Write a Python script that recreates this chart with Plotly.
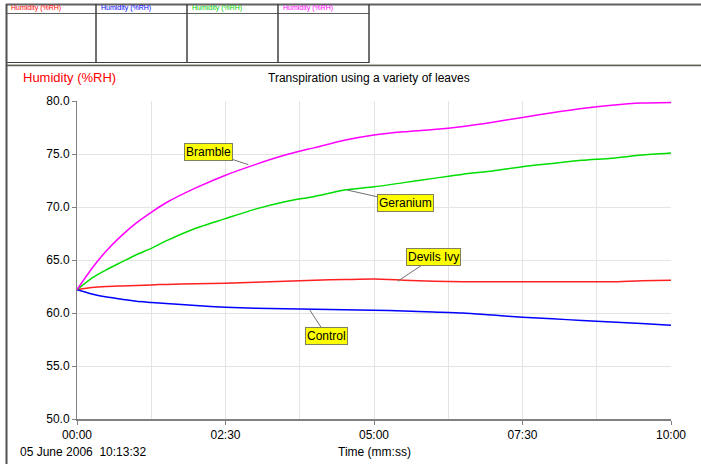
import plotly.graph_objects as go

# ---- data ----
time_s = [0, 15, 30, 45, 60, 75, 90, 120, 150, 180, 210, 240, 270, 300,
          330, 360, 390, 420, 450, 480, 510, 540, 570, 600]
bramble = [62.2, 64.2, 65.9, 67.3, 68.5, 69.5, 70.4, 71.8, 73.0, 74.0, 74.9, 75.6,
           76.3, 76.8, 77.1, 77.3, 77.6, 78.0, 78.45, 78.9, 79.3, 79.6, 79.8, 79.85]
geranium = [62.2, 63.3, 64.1, 64.8, 65.5, 66.1, 66.8, 68.0, 68.9, 69.8, 70.5, 71.0,
            71.6, 71.9, 72.3, 72.7, 73.1, 73.4, 73.8, 74.1, 74.4, 74.6, 74.9, 75.1]
devils_ivy = [62.2, 62.4, 62.5, 62.55, 62.6, 62.65, 62.7, 62.75, 62.8, 62.9, 63.0, 63.1,
              63.15, 63.2, 63.1, 63.0, 62.95, 62.95, 62.95, 62.95, 62.95, 62.95, 63.05, 63.1]
control = [62.2, 61.8, 61.5, 61.3, 61.1, 61.0, 60.9, 60.7, 60.55, 60.45, 60.4, 60.35,
           60.3, 60.25, 60.2, 60.1, 60.0, 59.8, 59.6, 59.45, 59.3, 59.15, 59.0, 58.85]

tick_vals = [0, 150, 300, 450, 600]
tick_text = ["00:00", "02:30", "05:00", "07:30", "10:00"]

labels = [  # (text, time, value, ax, ay)
    ("Bramble", 173, 74.0, -40, -13),
    ("Geranium", 273, 71.6, 58, 13),
    ("Devils Ivy", 324, 63.0, 36, -24),
    ("Control", 235, 60.3, 17, 26),
]

FONT = "Liberation Sans, Arial, sans-serif"
W, H = 701, 464
L, R, T, B = 77, 671, 101, 419


def px(x):
    return (x - L) / (R - L)


def py(y):
    return (B - y) / (B - T)


fig = go.Figure()
for name, vals, col in [("Devils Ivy", devils_ivy, "#ff2020"),
                        ("Control", control, "#0000ff"),
                        ("Geranium", geranium, "#00dd00"),
                        ("Bramble", bramble, "#ff00ff")]:
    fig.add_trace(go.Scatter(x=time_s, y=vals, mode="lines", name=name,
                             line=dict(color=col, width=1.5, shape="spline", smoothing=0.6),
                             showlegend=False))

ann = []
for text, t, v, ax, ay in labels:
    ann.append(dict(x=t, y=v, xref="x", yref="y", text=text, showarrow=True,
                    arrowhead=0, arrowwidth=1, arrowcolor="#707070", ax=ax, ay=ay,
                    bgcolor="#ffff00", bordercolor="#808060", borderwidth=1, borderpad=1,
                    font=dict(family=FONT, size=12, color="black")))

ann.append(dict(x=px(21), y=py(78), xref="paper", yref="paper", text="Humidity (%RH)",
                showarrow=False, xanchor="left", yanchor="middle",
                font=dict(family=FONT, size=13, color="#ff0000")))
ann.append(dict(x=px(369), y=py(78), xref="paper", yref="paper",
                text="Transpiration using a variety of leaves",
                showarrow=False, xanchor="center", yanchor="middle",
                font=dict(family=FONT, size=12, color="black")))
ann.append(dict(x=px(18), y=py(452), xref="paper", yref="paper",
                text="05 June 2006  10:13:32", showarrow=False, xanchor="left",
                yanchor="middle", font=dict(family=FONT, size=12, color="black")))
ann.append(dict(x=px(336), y=py(452), xref="paper", yref="paper",
                text="Time (mm:ss)", showarrow=False, xanchor="left",
                yanchor="middle", font=dict(family=FONT, size=12, color="black")))

hdr_cols = ["#ff0000", "#0000ff", "#00cc00", "#ff00ff"]
cell_x = [6, 96, 187, 278, 369]
for i, c in enumerate(hdr_cols):
    ann.append(dict(x=px(cell_x[i] + 3), y=py(8.5), xref="paper", yref="paper",
                    text="Humidity (%RH)", showarrow=False, xanchor="left",
                    yanchor="middle", font=dict(family=FONT, size=7, color=c)))

shapes = []


def hline(x0, x1, y, col="#606060", w=1):
    shapes.append(dict(type="line", xref="paper", yref="paper", x0=px(x0), x1=px(x1),
                       y0=py(y), y1=py(y), line=dict(color=col, width=w)))


def vline(x, y0, y1, col="#606060", w=1):
    shapes.append(dict(type="line", xref="paper", yref="paper", x0=px(x), x1=px(x),
                       y0=py(y0), y1=py(y1), line=dict(color=col, width=w)))


hline(6, 701, 4.5, "#606060", 2)
hline(6, 369, 13.5, "#606060", 1)
hline(6, 369, 62.5, "#404040", 1)
hline(6, 701, 64.5, "#d8d8c8", 1)
hline(6, 701, 65.5, "#606060", 1.5)
vline(6.5, 4, 464, "#505050", 2)
for cx in cell_x[1:]:
    vline(cx, 4, 63, "#404040", 1.5)

fig.update_layout(
    width=W, height=H,
    margin=dict(l=L, r=W - R, t=T, b=H - B, pad=0),
    paper_bgcolor="white", plot_bgcolor="white",
    font=dict(family=FONT, size=12, color="black"),
    annotations=ann, shapes=shapes,
    xaxis=dict(range=[0, 600], tickmode="array", tickvals=tick_vals, ticktext=tick_text,
               showgrid=True, gridcolor="#e4e4e4", gridwidth=1,
               minor=dict(dtick=75, tick0=0, showgrid=True, gridcolor="#e4e4e4", ticks=""),
               showline=True, linecolor="#808080", linewidth=1.5,
               ticks="outside", ticklen=4, tickcolor="#808080", zeroline=False,
               tickfont=dict(family=FONT, size=12)),
    yaxis=dict(range=[50, 80], dtick=5, tick0=50, tickformat=".1f",
               showgrid=True, gridcolor="#e4e4e4", gridwidth=1,
               showline=True, linecolor="#808080", linewidth=1,
               ticks="outside", ticklen=4, tickcolor="#808080", zeroline=False,
               tickfont=dict(family=FONT, size=12)),
)

fig.write_html("out.html", config={"displayModeBar": False},
               post_script="document.body.style.margin='0';document.body.style.overflow='hidden';")
